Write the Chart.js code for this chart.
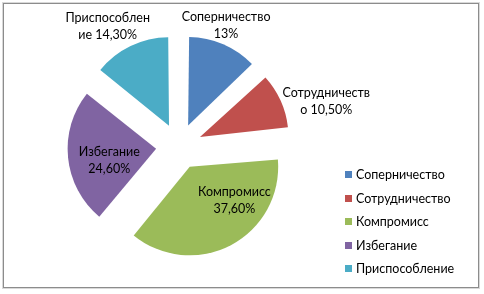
<!DOCTYPE html>
<html>
<head>
<meta charset="utf-8">
<script src="https://cdn.jsdelivr.net/npm/chart.js@4/dist/chart.umd.min.js"></script>
<style>
	html, body { margin: 0; padding: 0; background: #fff; }
	#chart { display: block; }
</style>
</head>
<body>
<canvas id="chart" width="484" height="294"></canvas>
<script>
// data
const categories = ["Соперничество", "Сотрудничество", "Компромисс", "Избегание", "Приспособление"];
const values = [13, 10.5, 37.6, 24.6, 14.3];
// data labels as Excel wrapped them
const dataLabels = [
	["Соперничество", "13%"],
	["Сотрудничеств", "о 10,50%"],
	["Компромисс", "37,60%"],
	["Избегание", "24,60%"],
	["Приспособлен", "ие 14,30%"],
];
const colors = ["#4F81BD", "#C0504D", "#9BBB59", "#8064A2", "#4BACC6"];

const FONT = "12.5px Lato";
const TEXT_COLOR = "#000";
const PIE_RADIUS = 88.5;
// real shift of every slice in px (the v4 arc draws offset / 4)
const EXPLODE = 23;

// label placement: outside or inside, plus small nudges to match Excel's best fit
const labelInside = [false, false, true, true, false];
const labelNudge = [[2, -0.5], [0, 1.5], [20, -13.5], [6, 6.5], [-22, -1.5]];

//* frame around the whole chart, like the Excel chart area
const framePlugin = {
	id: "frame",
	beforeDraw(chart) {
		const ctx = chart.ctx;
		ctx.save();
		ctx.fillStyle = "#fff";
		ctx.fillRect(0, 0, chart.width, chart.height);
		ctx.strokeStyle = "#8c8c8c";
		ctx.lineWidth = 1;
		ctx.strokeRect(3.5, 3.5, 475, 284);
		ctx.strokeStyle = "#d9d9d9";
		ctx.strokeRect(2.5, 2.5, 477, 286);
		ctx.restore();
	},
};

//* the arc grows its radius with the offset on narrow slices; undo that so all slices share one radius
const equalRadiusPlugin = {
	id: "equalRadius",
	afterDatasetUpdate(chart, args) {
		args.meta.data.forEach((arc) => {
			const circ = arc.endAngle - arc.startAngle;
			const fix = 1 - Math.sin(Math.min(Math.PI, circ));
			arc.outerRadius = PIE_RADIUS - EXPLODE * fix;
		});
	},
};

//* data labels drawn next to / inside each exploded slice
const labelPlugin = {
	id: "sliceLabels",
	afterDatasetsDraw(chart) {
		const ctx = chart.ctx;
		const meta = chart.getDatasetMeta(0);
		ctx.save();
		ctx.font = FONT;
		ctx.fillStyle = TEXT_COLOR;
		ctx.textAlign = "center";
		ctx.textBaseline = "middle";
		const lineH = 16.5;
		meta.data.forEach((arc, i) => {
			const { x, y, startAngle, endAngle } = arc.getProps(["x", "y", "startAngle", "endAngle"], true);
			const r = PIE_RADIUS;
			const mid = (startAngle + endAngle) / 2;
			const dx = Math.cos(mid), dy = Math.sin(mid);
			const vx = x + dx * EXPLODE, vy = y + dy * EXPLODE;
			const lines = dataLabels[i];
			const w = Math.max(...lines.map((l) => ctx.measureText(l).width));
			const h = lines.length * lineH;
			let cx, cy;
			if (labelInside[i]) {
				cx = vx + dx * r * 0.6;
				cy = vy + dy * r * 0.6;
			} else {
				const px = vx + dx * (r + 2);
				const py = vy + dy * (r + 2);
				if (Math.abs(dx) > Math.abs(dy)) {
					cx = px + Math.sign(dx) * w / 2;
					cy = py;
				} else {
					cx = px;
					cy = py + Math.sign(dy) * h / 2;
				}
			}
			cx += labelNudge[i][0];
			cy += labelNudge[i][1];
			lines.forEach((l, k) => {
				ctx.fillText(l, cx, cy - h / 2 + lineH / 2 + k * lineH);
			});
		});
		ctx.restore();
	},
};

//* legend on the right with small square markers
const legendPlugin = {
	id: "sideLegend",
	afterDraw(chart) {
		const ctx = chart.ctx;
		ctx.save();
		ctx.font = FONT;
		ctx.textBaseline = "middle";
		ctx.textAlign = "left";
		const top = 174, step = 23.6;
		chart.data.labels.forEach((label, i) => {
			const y = Math.round(top + i * step);
			ctx.fillStyle = chart.data.datasets[0].backgroundColor[i];
			ctx.fillRect(345, y - 3, 7, 7);
			ctx.fillStyle = TEXT_COLOR;
			ctx.fillText(label, 356, y + 0.5);
		});
		ctx.restore();
	},
};

new Chart(document.getElementById("chart"), {
	type: "pie",
	data: {
		labels: categories,
		datasets: [
			{
				data: values,
				backgroundColor: colors,
				borderWidth: 0,
				offset: EXPLODE * 4,
				hoverOffset: 0,
				radius: PIE_RADIUS,
			},
		],
	},
	options: {
		responsive: false,
		animation: false,
		layout: { padding: { left: 78, top: 46, right: 204, bottom: 47 } },
		plugins: {
			legend: { display: false },
			tooltip: { enabled: false },
		},
	},
	plugins: [framePlugin, equalRadiusPlugin, labelPlugin, legendPlugin],
});
</script>
</body>
</html>
